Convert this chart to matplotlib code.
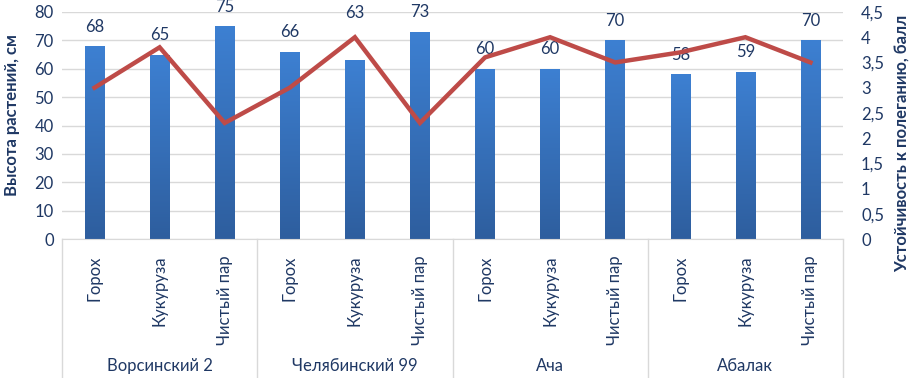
import matplotlib
matplotlib.use("Agg")
import matplotlib.pyplot as plt
import numpy as np
from matplotlib.lines import Line2D
from matplotlib.colors import LinearSegmentedColormap

plt.rcParams['font.family'] = ['Lato', 'DejaVu Sans']

groups = ["Ворсинский 2", "Челябинский 99", "Ача", "Абалак"]
crops = ["Горох", "Кукуруза", "Чистый пар"]
heights = [68, 65, 75, 66, 63, 73, 60, 60, 70, 58, 59, 70]
resistance = [3.0, 3.8, 2.3, 3.0, 4.0, 2.3, 3.6, 4.0, 3.5, 3.7, 4.0, 3.5]
left_ticks = [0, 10, 20, 30, 40, 50, 60, 70, 80]
right_ticks = [0, 0.5, 1, 1.5, 2, 2.5, 3, 3.5, 4, 4.5]

txt = '#1F3864'
grid_c = '#D9D9D9'

fig = plt.figure(figsize=(9.12, 3.78), dpi=100)
ax = fig.add_axes([62/912, 1-239/378, (843-62)/912, (239-12)/378])
ax2 = ax.twinx()

n = len(heights)
x = np.arange(n)
labels = [crops[i % 3] for i in range(n)]

bars = ax.bar(x, heights, width=0.3, color='#3470BE', zorder=2)
cmap = LinearSegmentedColormap.from_list('g', ['#2E5E9E', '#3D80D2'])
grad = np.linspace(0, 1, 256).reshape(-1, 1)
for b in bars:
    bx = b.get_x()
    w, h = b.get_width(), b.get_height()
    im = ax.imshow(grad, cmap=cmap, extent=[bx, bx + w, 0, h], origin='lower',
                   aspect='auto', zorder=2)
    im.set_clip_path(b)
    b.set_alpha(0)

ax.set_xlim(-0.5, n - 0.5)
ax.set_ylim(0, 80)
ax.set_yticks(left_ticks)
ax.grid(axis='y', color=grid_c, lw=1, zorder=0)
ax.set_axisbelow(True)
for s in ['top', 'right', 'left']:
    ax.spines[s].set_visible(False)
ax.spines['bottom'].set_color(grid_c)
ax.tick_params(axis='y', length=0, labelsize=12, labelcolor=txt, pad=6)
ax.set_xticks(x)
ax.set_xticklabels(labels, rotation=90, fontsize=12, color=txt)
ax.tick_params(axis='x', length=0, pad=12)

# label offsets in points (the "63" label sits higher in the reference)
label_offset = {4: 34}
for i, (xi, h) in enumerate(zip(x, heights)):
    ax.annotate(str(h), (xi, h), xytext=(0, label_offset.get(i, 14)),
                textcoords='offset points', ha='center', va='center',
                fontsize=12, color=txt, zorder=5, annotation_clip=False)

ax2.plot(x, resistance, color='#BE4B48', lw=3.2, zorder=4, solid_joinstyle='miter')
ax2.set_ylim(0, 4.5)
ax2.set_yticks(right_ticks)
ax2.set_yticklabels([f"{t:g}".replace('.', ',') for t in right_ticks])
ax2.tick_params(axis='y', length=0, labelsize=12, labelcolor=txt, pad=13)
for s in ['top', 'right', 'left', 'bottom']:
    ax2.spines[s].set_visible(False)

ax.set_zorder(1)
ax.patch.set_visible(False)
ax2.set_zorder(2)

# group separators and group labels
for k in range(len(groups) + 1):
    xp = k * 3 - 0.5
    ax.add_line(Line2D([xp, xp], [0, -0.61], transform=ax.get_xaxis_transform(),
                       color=grid_c, lw=1, clip_on=False))
for k, g in enumerate(groups):
    ax.text(k * 3 + 1, -0.56, g, transform=ax.get_xaxis_transform(),
            ha='center', va='center', fontsize=12, color=txt)

fig.text(12/912, 1 - 115/378, "Высота растений, см", rotation=90, ha='center',
         va='center', fontsize=12, fontweight='bold', color=txt)
fig.text(903/912, 1 - 143/378, "Устойчивость к полеганию, балл", rotation=90,
         ha='center', va='center', fontsize=12, fontweight='bold', color=txt)

fig.savefig('out.png', dpi=100)
